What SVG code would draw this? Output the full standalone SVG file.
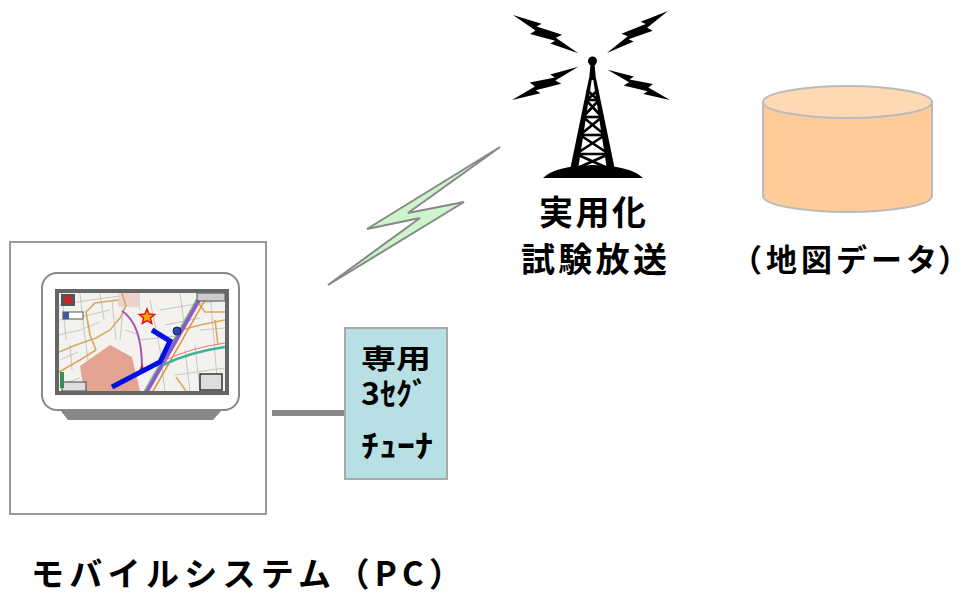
<svg xmlns="http://www.w3.org/2000/svg" width="973" height="596" viewBox="0 0 973 596">
  <style>
    .jp { font-family: "Noto Sans CJK JP", "Noto Sans", sans-serif; fill: #000; font-weight: 700; }
    .frame { fill: #fff; stroke: #999; stroke-width: 2; }
    .bolt { fill: #000; }
    .road { fill: none; stroke: #c6c6c6; stroke-width: 1; }
    .oroad { fill: none; stroke: #d9a860; stroke-width: 1.6; }
  </style>
  <defs>
    <path id="zap" d="M0,0 L30,-7 L27,-2 L54,-8 L50,-2 L78,0 L48,6 L51,1 L25,8 L28,2 Z"/>
    <clipPath id="screenClip">
      <rect x="59" y="293" width="166" height="98"/>
    </clipPath>
  </defs>

  <rect width="973" height="596" fill="#fff"/>

  <!-- connectors -->
  <g id="connectors">
    <line x1="272" y1="413" x2="346" y2="413" stroke="#888" stroke-width="6"/>
    <polygon points="500,147 367,229 420,218 328,285 464,202 408,213" fill="#ccf5cc" stroke="#888" stroke-width="2" stroke-linejoin="miter"/>
  </g>

  <!-- mobile PC -->
  <g id="mobile-pc">
    <rect class="frame" x="10" y="242" width="256" height="272"/>
    <rect x="42" y="273" width="197" height="137" rx="15" fill="#fff" stroke="#888" stroke-width="2"/>
    <polygon points="60,410 222,410 213,420 68,420" fill="#888"/>
    <rect x="55" y="289" width="174" height="106" fill="#666"/>
    <g clip-path="url(#screenClip)">
      <rect x="59" y="293" width="166" height="98" fill="#f4f2ee"/>
      <!-- streets -->
      <path class="road" d="M59,305 L90,300 L120,296 M59,320 L85,316 L110,310 M59,335 L80,330 L100,322 M62,293 L66,340 M80,293 L84,330 L88,360 M100,293 L104,320 M112,300 L116,340 M60,360 L78,352 M150,300 L160,350 L165,391 M135,293 L140,310 M160,310 L190,305 L225,300 M165,325 L200,318 M180,293 L185,330 M210,293 L214,340 L218,391 M195,345 L200,391 M175,375 L225,368 M140,340 L175,336 M125,330 L140,335 M60,385 L80,378 M70,345 L72,370 M120,340 L124,300 M185,350 L190,391 M200,330 L225,328"/>
      <rect x="118" y="293" width="22" height="14" fill="#eed2cf"/>
      <polygon points="80,366 110,345 132,357 140,391 84,391" fill="#e2a391"/>
      <!-- main roads -->
      <path class="oroad" d="M59,352 L76,345 L96,338 L110,330 L120,318 L126,306 L122,293"/>
      <path class="oroad" d="M59,372 L80,360 L96,350"/>
      <path class="oroad" d="M96,350 L90,335 L86,312 L95,303 L118,300"/>
      <path class="oroad" d="M182,330 L200,325 L225,320"/>
      <path class="oroad" d="M176,377 L186,391"/>
      <path class="oroad" d="M196,300 L205,312 L225,312"/>
      <path class="oroad" d="M215,320 L218,345"/>
      <!-- expressway -->
      <line x1="152" y1="393" x2="209" y2="293" stroke="#e0903a" stroke-width="1.5"/>
      <line x1="146" y1="393" x2="203" y2="293" stroke="#8a5cc8" stroke-width="4"/>
      <line x1="143" y1="393" x2="200" y2="293" stroke="#60b060" stroke-width="1"/>
      <!-- rail / river lines -->
      <path d="M163,361 Q190,348 225,343" fill="none" stroke="#e07a7a" stroke-width="1"/>
      <path d="M163,365 Q190,352 225,347" fill="none" stroke="#3fb394" stroke-width="2.5"/>
      <!-- purple route -->
      <path d="M122,311 Q142,324 142,368" fill="none" stroke="#a452b4" stroke-width="2"/>
      <polygon points="142,364 145,371 139,371" fill="#d02020"/>
      <circle cx="177" cy="331" r="4" fill="#2a4aa8" stroke="#102060" stroke-width="1"/>
      <!-- icons -->
      <rect x="61" y="294" width="14" height="12" fill="#555"/>
      <circle cx="68" cy="300" r="4" fill="#d02020"/>
      <rect x="63" y="312" width="20" height="7" fill="#fff" stroke="#555" stroke-width="1"/>
      <rect x="63" y="312" width="6" height="7" fill="#3a5a9a"/>
      <rect x="62" y="382" width="24" height="9" fill="#ddd" stroke="#444" stroke-width="1"/>
      <rect x="60" y="372" width="4" height="16" fill="#3a8a5a"/>
      <rect x="200" y="374" width="22" height="16" fill="#ddd" stroke="#333" stroke-width="1.5"/>
      <rect x="197" y="293" width="28" height="8" fill="#ccc" stroke="#555" stroke-width="1"/>
      <!-- guidance route -->
      <polyline points="112,387 160,362 170,341 152,330" fill="none" stroke="#0010e6" stroke-width="5"/>
      <polygon points="147,309 149.1,314.1 154.6,314.5 150.4,318.1 151.7,323.5 147,320.6 142.3,323.5 143.6,318.1 139.4,314.5 144.9,314.1" fill="#ffaa00" stroke="#ee1010" stroke-width="1.5"/>
    </g>
  </g>

  <!-- tuner -->
  <g id="tuner">
    <rect x="345" y="328" width="102" height="151" fill="#b8e0e4" stroke="#aaa" stroke-width="2"/>
    <text class="jp" x="361" y="369" font-size="27" textLength="70" lengthAdjust="spacingAndGlyphs">専用</text>
    <text class="jp" x="361" y="405" font-size="31" textLength="67" lengthAdjust="spacingAndGlyphs">3ｾｸﾞ</text>
    <text class="jp" x="361" y="457" font-size="31" textLength="72" lengthAdjust="spacingAndGlyphs">ﾁｭｰﾅ</text>
  </g>

  <!-- broadcast tower -->
  <g id="tower">
    <use href="#zap" class="bolt" transform="translate(513,15) rotate(30.3) scale(0.97)"/>
    <use href="#zap" class="bolt" transform="translate(668,11) rotate(145.5) scale(0.95,-0.95)"/>
    <use href="#zap" class="bolt" transform="translate(512,100) rotate(-26.6) scale(0.95,-0.95)"/>
    <use href="#zap" class="bolt" transform="translate(670,100) rotate(205.8) scale(0.89)"/>
    <circle cx="592.5" cy="61" r="4.5" fill="#000"/>
    <polygon points="590.5,64 594.5,64 596,80 589,80" fill="#000"/>
    <!-- legs -->
    <polygon points="589,78 592,78 578,170 570,170" fill="#000"/>
    <polygon points="593,78 596,78 615,170 607,170" fill="#000"/>
    <!-- lattice -->
    <g stroke="#000" stroke-width="2.6" fill="none">
      <line x1="586" y1="100" x2="599" y2="100"/>
      <line x1="583" y1="117" x2="602" y2="117"/>
      <line x1="580" y1="135" x2="605" y2="135"/>
      <line x1="576" y1="154" x2="609" y2="154"/>
      <path d="M587,90 L598,100 M598,90 L587,100"/>
      <path d="M586,100 L602,117 M599,100 L583,117"/>
      <path d="M583,117 L605,135 M602,117 L580,135"/>
      <path d="M580,135 L609,154 M605,135 L576,154"/>
      <path d="M576,154 L612,170 M609,154 L573,170"/>
    </g>
    <path d="M543,178 Q555,166 593,165 Q631,166 643,178 Z" fill="#000"/>
    <text class="jp" x="539" y="225" font-size="34" letter-spacing="2.5">実用化</text>
    <text class="jp" x="521" y="272" font-size="34" letter-spacing="3.3">試験放送</text>
  </g>

  <!-- map database -->
  <g id="map-data">
    <path d="M763,102 L763,196 A84.5,16 0 0 0 932,196 L932,102 Z" fill="#ffcb99" stroke="#bbb" stroke-width="2"/>
    <ellipse cx="847.5" cy="102" rx="84.5" ry="16" fill="#ffd9b3" stroke="#bbb" stroke-width="2"/>
    <text class="jp" x="731" y="271" font-size="31" letter-spacing="4">（地図データ<tspan x="938">）</tspan></text>
  </g>

  <text id="pc-label" class="jp" x="31" y="586" font-size="33" letter-spacing="5.3">モバイルシステム（PC）</text>
</svg>
